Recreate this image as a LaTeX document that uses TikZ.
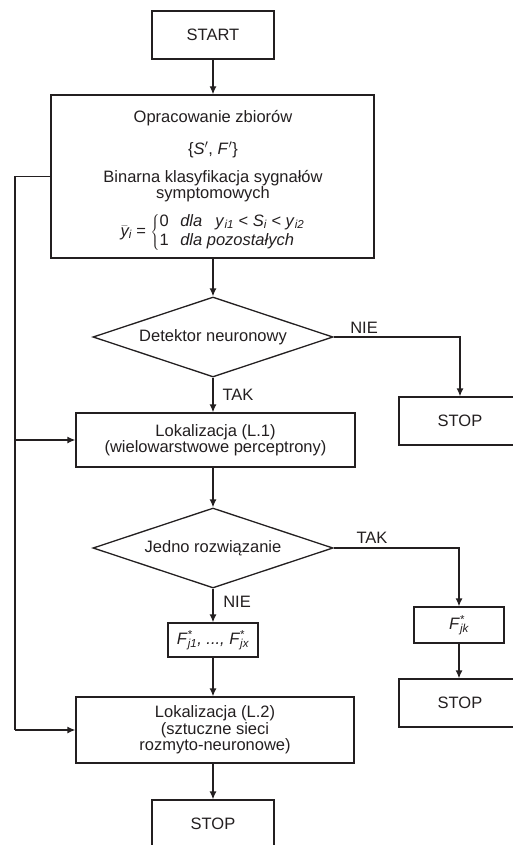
\documentclass[tikz,border=0pt]{standalone}
\usepackage{fontspec}
\setmainfont{Liberation Sans}
\usetikzlibrary{arrows.meta,shapes.geometric}
\definecolor{ink}{HTML}{231F20}
\newcommand\subi[1]{\textsubscript{\itshape #1}}
\newcommand\FF[1]{\textit{F}\rlap{\textsuperscript{*}}\textsubscript{\itshape #1}}
\begin{document}
\begin{tikzpicture}[x=1pt,y=-1pt,
  every node/.style={font=\fontsize{16.5}{16.5}\selectfont, text=ink},
  box/.style={draw=ink, line width=1.3pt, inner sep=0pt, align=center},
  dec/.style={draw=ink, line width=1.3pt, diamond, aspect=3, inner sep=0pt, minimum width=240pt, minimum height=80pt},
  arr/.style={draw=ink, line width=1.3pt, -{Latex[length=8pt,width=7pt]}},
  ln/.style={draw=ink, line width=1.3pt},
  lbl/.style={inner sep=0pt}]
\useasboundingbox (0,0) rectangle (512,845);
\fill[white] (0,0) rectangle (512,845);

\node[box, minimum width=122pt, minimum height=48pt] (start) at (213,35) {START};
\node[box, minimum width=323pt, minimum height=163pt] (proc) at (212.5,176.5) {};
\node[lbl] (t1) at (213,118) {Opracowanie zbiorów};
\node[lbl] (t2) at (213,150) {\{\textit{S}$'$, \textit{F}$'$\}};
\node[lbl, align=center, font=\fontsize{16.5}{14}\selectfont] (t3) at (213,186) {Binarna klasyfikacja sygnałów\\symptomowych};
\node[lbl] (t4) at (213,232) {\renewcommand\arraystretch{1.15}%
  $\bar{\textit{y}}$\subi{i} = $\left\{\begin{tabular}{@{}l@{\hspace{0.7em}}l@{}}
  0 & \textit{dla}\hspace{0.8em}\textit{y}\subi{i1} < \textit{S}\subi{i} < \textit{y}\subi{i2}\\
  1 & \textit{dla pozostałych}
  \end{tabular}\right.$};

\node[dec] (d1) at (213,337) {Detektor neuronowy};
\node[box, minimum width=122pt, minimum height=48pt] (stop1) at (460,421) {STOP};
\node[box, minimum width=279pt, minimum height=54pt] (loc1) at (215.5,440) {Lokalizacja (L.1)\\(wielowarstwowe perceptrony)};
\node[dec] (d2) at (213,548) {Jedno rozwiązanie};
\node[box, minimum width=90pt, minimum height=36pt] (fjk) at (459,625) {\FF{jk}};
\node[box, minimum width=122pt, minimum height=48pt] (stop2) at (460,703) {STOP};
\node[box, minimum width=90pt, minimum height=34pt] (fj1) at (213,640) {\FF{j1}\textit{, ..., }\FF{jx}};
\node[box, minimum width=278pt, minimum height=66pt] (loc2) at (215,730) {Lokalizacja (L.2)\\(sztuczne sieci\\rozmyto-neuronowe)};
\node[box, minimum width=122pt, minimum height=48pt] (stop3) at (213,824) {STOP};

\node[lbl] (nie1) at (364,328) {NIE};
\node[lbl] (tak1) at (238,395) {TAK};
\node[lbl] (tak2) at (372,538) {TAK};
\node[lbl] (nie2) at (237,602) {NIE};

\coordinate (lx) at (15,0);
\draw[arr] (start) -- (start |- proc.north);
\draw[arr] (proc.south -| d1) -- (d1.north);
\draw[arr] (d1.south) -- (loc1.north -| d1.south);
\draw[arr] (d1.east) -- (d1.east -| stop1) -- (stop1.north);
\draw[arr] (loc1.south -| d2) -- (d2.north);
\draw[arr] (d2.east) -- (d2.east -| fjk) -- (fjk.north);
\draw[arr] (fjk.south) -- (stop2.north -| fjk);
\draw[arr] (d2.south) -- (fj1.north);
\draw[arr] (fj1.south) -- (loc2.north -| fj1);
\draw[arr] (loc2.south -| stop3) -- (stop3.north);
\draw[ln] (proc.west) -- (proc.west -| lx) coordinate (ctop) -- (loc2.west -| lx) coordinate (cbot);
\draw[arr] (cbot) -- (loc2.west);
\draw[arr] (loc1.west -| lx) -- (loc1.west);
\end{tikzpicture}
\end{document}
